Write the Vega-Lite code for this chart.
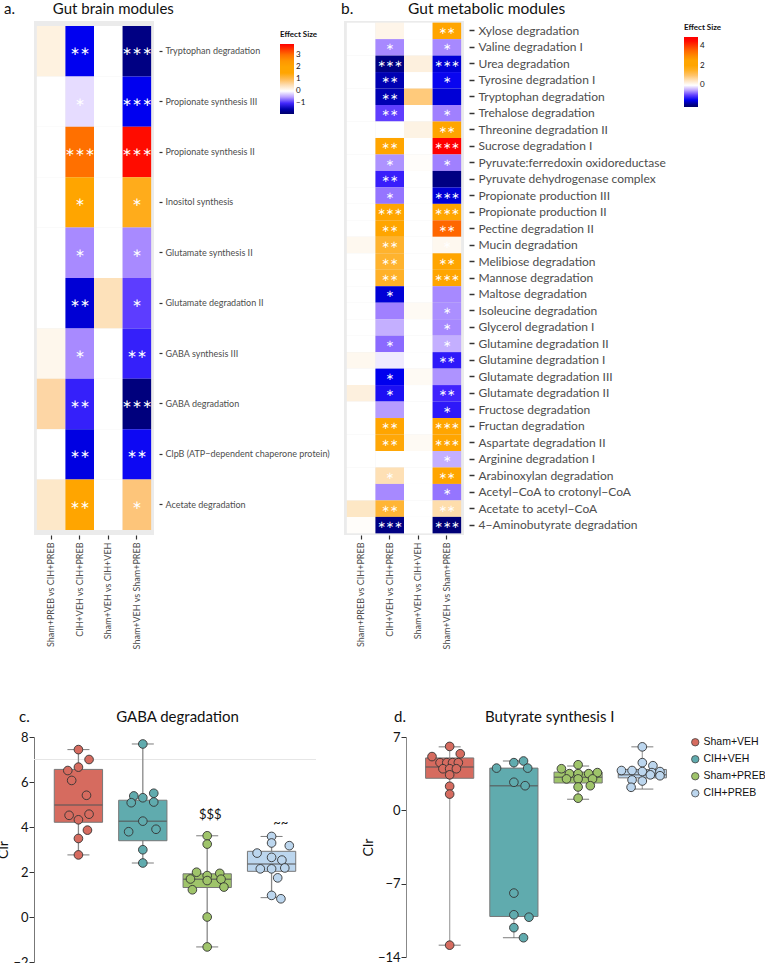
{
  "$schema": "https://vega.github.io/schema/vega-lite/v6.json",
  "padding": {"left": -4, "top": 1, "right": 0, "bottom": 0},
  "background": "white",
  "config": {
    "font": "Lato",
    "view": {"stroke": null},
    "title": {"font": "Lato", "fontWeight": "normal", "fontSize": 15, "color": "#111", "frame": "group"},
    "axis": {"labelFont": "Lato", "titleFont": "Lato"},
    "legend": {"labelFont": "Lato", "titleFont": "Lato"}
  },
  "datasets": {
    "heatA": [
      {"m": "Tryptophan degradation", "c": "Sham+PREB vs CIH+PREB", "e": 0.2, "s": ""},
      {"m": "Tryptophan degradation", "c": "CIH+VEH vs CIH+PREB", "e": -1.25, "s": "∗∗"},
      {"m": "Tryptophan degradation", "c": "Sham+VEH vs CIH+VEH", "e": 0, "s": ""},
      {"m": "Tryptophan degradation", "c": "Sham+VEH vs Sham+PREB", "e": -1.7, "s": "∗∗∗"},
      {"m": "Propionate synthesis III", "c": "Sham+PREB vs CIH+PREB", "e": 0, "s": ""},
      {"m": "Propionate synthesis III", "c": "CIH+VEH vs CIH+PREB", "e": -0.2, "s": "∗"},
      {"m": "Propionate synthesis III", "c": "Sham+VEH vs CIH+VEH", "e": 0, "s": ""},
      {"m": "Propionate synthesis III", "c": "Sham+VEH vs Sham+PREB", "e": -1.25, "s": "∗∗∗"},
      {"m": "Propionate synthesis II", "c": "Sham+PREB vs CIH+PREB", "e": 0, "s": ""},
      {"m": "Propionate synthesis II", "c": "CIH+VEH vs CIH+PREB", "e": 3.0, "s": "∗∗∗"},
      {"m": "Propionate synthesis II", "c": "Sham+VEH vs CIH+VEH", "e": 0, "s": ""},
      {"m": "Propionate synthesis II", "c": "Sham+VEH vs Sham+PREB", "e": 3.8, "s": "∗∗∗"},
      {"m": "Inositol synthesis", "c": "Sham+PREB vs CIH+PREB", "e": 0, "s": ""},
      {"m": "Inositol synthesis", "c": "CIH+VEH vs CIH+PREB", "e": 1.8, "s": "∗"},
      {"m": "Inositol synthesis", "c": "Sham+VEH vs CIH+VEH", "e": 0, "s": ""},
      {"m": "Inositol synthesis", "c": "Sham+VEH vs Sham+PREB", "e": 1.2, "s": "∗"},
      {"m": "Glutamate synthesis II", "c": "Sham+PREB vs CIH+PREB", "e": 0, "s": ""},
      {"m": "Glutamate synthesis II", "c": "CIH+VEH vs CIH+PREB", "e": -0.6, "s": "∗"},
      {"m": "Glutamate synthesis II", "c": "Sham+VEH vs CIH+VEH", "e": 0, "s": ""},
      {"m": "Glutamate synthesis II", "c": "Sham+VEH vs Sham+PREB", "e": -0.6, "s": "∗"},
      {"m": "Glutamate degradation II", "c": "Sham+PREB vs CIH+PREB", "e": 0, "s": ""},
      {"m": "Glutamate degradation II", "c": "CIH+VEH vs CIH+PREB", "e": -1.35, "s": "∗∗"},
      {"m": "Glutamate degradation II", "c": "Sham+VEH vs CIH+VEH", "e": 0.45, "s": ""},
      {"m": "Glutamate degradation II", "c": "Sham+VEH vs Sham+PREB", "e": -0.9, "s": "∗"},
      {"m": "GABA synthesis III", "c": "Sham+PREB vs CIH+PREB", "e": 0.12, "s": ""},
      {"m": "GABA synthesis III", "c": "CIH+VEH vs CIH+PREB", "e": -0.6, "s": "∗"},
      {"m": "GABA synthesis III", "c": "Sham+VEH vs CIH+VEH", "e": 0, "s": ""},
      {"m": "GABA synthesis III", "c": "Sham+VEH vs Sham+PREB", "e": -1.05, "s": "∗∗"},
      {"m": "GABA degradation", "c": "Sham+PREB vs CIH+PREB", "e": 0.6, "s": ""},
      {"m": "GABA degradation", "c": "CIH+VEH vs CIH+PREB", "e": -1.05, "s": "∗∗"},
      {"m": "GABA degradation", "c": "Sham+VEH vs CIH+VEH", "e": 0, "s": ""},
      {"m": "GABA degradation", "c": "Sham+VEH vs Sham+PREB", "e": -1.75, "s": "∗∗∗"},
      {"m": "ClpB (ATP−dependent chaperone protein)", "c": "Sham+PREB vs CIH+PREB", "e": 0, "s": ""},
      {"m": "ClpB (ATP−dependent chaperone protein)", "c": "CIH+VEH vs CIH+PREB", "e": -1.3, "s": "∗∗"},
      {"m": "ClpB (ATP−dependent chaperone protein)", "c": "Sham+VEH vs CIH+VEH", "e": 0, "s": ""},
      {"m": "ClpB (ATP−dependent chaperone protein)", "c": "Sham+VEH vs Sham+PREB", "e": -1.2, "s": "∗∗"},
      {"m": "Acetate degradation", "c": "Sham+PREB vs CIH+PREB", "e": 0.35, "s": ""},
      {"m": "Acetate degradation", "c": "CIH+VEH vs CIH+PREB", "e": 1.8, "s": "∗∗"},
      {"m": "Acetate degradation", "c": "Sham+VEH vs CIH+VEH", "e": 0, "s": ""},
      {"m": "Acetate degradation", "c": "Sham+VEH vs Sham+PREB", "e": 0.85, "s": "∗"}
    ],
    "heatB": [
      {"m": "Xylose degradation", "c": "Sham+PREB vs CIH+PREB", "e": 0, "s": ""},
      {"m": "Xylose degradation", "c": "CIH+VEH vs CIH+PREB", "e": 0.2, "s": ""},
      {"m": "Xylose degradation", "c": "Sham+VEH vs CIH+VEH", "e": 0, "s": ""},
      {"m": "Xylose degradation", "c": "Sham+VEH vs Sham+PREB", "e": 2.0, "s": "∗∗"},
      {"m": "Valine degradation I", "c": "Sham+PREB vs CIH+PREB", "e": 0, "s": ""},
      {"m": "Valine degradation I", "c": "CIH+VEH vs CIH+PREB", "e": -0.65, "s": "∗"},
      {"m": "Valine degradation I", "c": "Sham+VEH vs CIH+VEH", "e": 0, "s": ""},
      {"m": "Valine degradation I", "c": "Sham+VEH vs Sham+PREB", "e": -0.65, "s": "∗"},
      {"m": "Urea degradation", "c": "Sham+PREB vs CIH+PREB", "e": 0, "s": ""},
      {"m": "Urea degradation", "c": "CIH+VEH vs CIH+PREB", "e": -2.0, "s": "∗∗∗"},
      {"m": "Urea degradation", "c": "Sham+VEH vs CIH+VEH", "e": 0.3, "s": ""},
      {"m": "Urea degradation", "c": "Sham+VEH vs Sham+PREB", "e": -1.6, "s": "∗∗∗"},
      {"m": "Tyrosine degradation I", "c": "Sham+PREB vs CIH+PREB", "e": 0, "s": ""},
      {"m": "Tyrosine degradation I", "c": "CIH+VEH vs CIH+PREB", "e": -1.75, "s": "∗∗"},
      {"m": "Tyrosine degradation I", "c": "Sham+VEH vs CIH+VEH", "e": 0, "s": ""},
      {"m": "Tyrosine degradation I", "c": "Sham+VEH vs Sham+PREB", "e": -1.45, "s": "∗"},
      {"m": "Tryptophan degradation", "c": "Sham+PREB vs CIH+PREB", "e": 0, "s": ""},
      {"m": "Tryptophan degradation", "c": "CIH+VEH vs CIH+PREB", "e": -1.75, "s": "∗∗"},
      {"m": "Tryptophan degradation", "c": "Sham+VEH vs CIH+VEH", "e": 0.9, "s": ""},
      {"m": "Tryptophan degradation", "c": "Sham+VEH vs Sham+PREB", "e": -1.6, "s": ""},
      {"m": "Trehalose degradation", "c": "Sham+PREB vs CIH+PREB", "e": 0, "s": ""},
      {"m": "Trehalose degradation", "c": "CIH+VEH vs CIH+PREB", "e": -1.0, "s": "∗∗"},
      {"m": "Trehalose degradation", "c": "Sham+VEH vs CIH+VEH", "e": 0, "s": ""},
      {"m": "Trehalose degradation", "c": "Sham+VEH vs Sham+PREB", "e": -0.7, "s": "∗"},
      {"m": "Threonine degradation II", "c": "Sham+PREB vs CIH+PREB", "e": 0, "s": ""},
      {"m": "Threonine degradation II", "c": "CIH+VEH vs CIH+PREB", "e": 0, "s": ""},
      {"m": "Threonine degradation II", "c": "Sham+VEH vs CIH+VEH", "e": 0.25, "s": ""},
      {"m": "Threonine degradation II", "c": "Sham+VEH vs Sham+PREB", "e": 2.0, "s": "∗∗"},
      {"m": "Sucrose degradation I", "c": "Sham+PREB vs CIH+PREB", "e": 0, "s": ""},
      {"m": "Sucrose degradation I", "c": "CIH+VEH vs CIH+PREB", "e": 2.0, "s": "∗∗"},
      {"m": "Sucrose degradation I", "c": "Sham+VEH vs CIH+VEH", "e": 0, "s": ""},
      {"m": "Sucrose degradation I", "c": "Sham+VEH vs Sham+PREB", "e": 4.8, "s": "∗∗∗"},
      {"m": "Pyruvate:ferredoxin oxidoreductase", "c": "Sham+PREB vs CIH+PREB", "e": 0, "s": ""},
      {"m": "Pyruvate:ferredoxin oxidoreductase", "c": "CIH+VEH vs CIH+PREB", "e": -0.6, "s": "∗"},
      {"m": "Pyruvate:ferredoxin oxidoreductase", "c": "Sham+VEH vs CIH+VEH", "e": 0.05, "s": ""},
      {"m": "Pyruvate:ferredoxin oxidoreductase", "c": "Sham+VEH vs Sham+PREB", "e": -0.7, "s": "∗"},
      {"m": "Pyruvate dehydrogenase complex", "c": "Sham+PREB vs CIH+PREB", "e": 0, "s": ""},
      {"m": "Pyruvate dehydrogenase complex", "c": "CIH+VEH vs CIH+PREB", "e": -1.2, "s": "∗∗"},
      {"m": "Pyruvate dehydrogenase complex", "c": "Sham+VEH vs CIH+VEH", "e": 0, "s": ""},
      {"m": "Pyruvate dehydrogenase complex", "c": "Sham+VEH vs Sham+PREB", "e": -2.0, "s": ""},
      {"m": "Propionate production III", "c": "Sham+PREB vs CIH+PREB", "e": 0, "s": ""},
      {"m": "Propionate production III", "c": "CIH+VEH vs CIH+PREB", "e": -0.75, "s": "∗"},
      {"m": "Propionate production III", "c": "Sham+VEH vs CIH+VEH", "e": 0, "s": ""},
      {"m": "Propionate production III", "c": "Sham+VEH vs Sham+PREB", "e": -1.6, "s": "∗∗∗"},
      {"m": "Propionate production II", "c": "Sham+PREB vs CIH+PREB", "e": 0, "s": ""},
      {"m": "Propionate production II", "c": "CIH+VEH vs CIH+PREB", "e": 2.0, "s": "∗∗∗"},
      {"m": "Propionate production II", "c": "Sham+VEH vs CIH+VEH", "e": 0, "s": ""},
      {"m": "Propionate production II", "c": "Sham+VEH vs Sham+PREB", "e": 2.1, "s": "∗∗∗"},
      {"m": "Pectine degradation II", "c": "Sham+PREB vs CIH+PREB", "e": 0, "s": ""},
      {"m": "Pectine degradation II", "c": "CIH+VEH vs CIH+PREB", "e": 2.0, "s": "∗∗"},
      {"m": "Pectine degradation II", "c": "Sham+VEH vs CIH+VEH", "e": 0, "s": ""},
      {"m": "Pectine degradation II", "c": "Sham+VEH vs Sham+PREB", "e": 3.5, "s": "∗∗"},
      {"m": "Mucin degradation", "c": "Sham+PREB vs CIH+PREB", "e": 0.15, "s": ""},
      {"m": "Mucin degradation", "c": "CIH+VEH vs CIH+PREB", "e": 1.45, "s": "∗∗"},
      {"m": "Mucin degradation", "c": "Sham+VEH vs CIH+VEH", "e": 0, "s": ""},
      {"m": "Mucin degradation", "c": "Sham+VEH vs Sham+PREB", "e": 0.15, "s": "∗"},
      {"m": "Melibiose degradation", "c": "Sham+PREB vs CIH+PREB", "e": 0, "s": ""},
      {"m": "Melibiose degradation", "c": "CIH+VEH vs CIH+PREB", "e": 1.45, "s": "∗∗"},
      {"m": "Melibiose degradation", "c": "Sham+VEH vs CIH+VEH", "e": 0, "s": ""},
      {"m": "Melibiose degradation", "c": "Sham+VEH vs Sham+PREB", "e": 2.0, "s": "∗∗"},
      {"m": "Mannose degradation", "c": "Sham+PREB vs CIH+PREB", "e": 0, "s": ""},
      {"m": "Mannose degradation", "c": "CIH+VEH vs CIH+PREB", "e": 1.5, "s": "∗∗"},
      {"m": "Mannose degradation", "c": "Sham+VEH vs CIH+VEH", "e": 0, "s": ""},
      {"m": "Mannose degradation", "c": "Sham+VEH vs Sham+PREB", "e": 2.0, "s": "∗∗∗"},
      {"m": "Maltose degradation", "c": "Sham+PREB vs CIH+PREB", "e": 0, "s": ""},
      {"m": "Maltose degradation", "c": "CIH+VEH vs CIH+PREB", "e": -1.6, "s": "∗"},
      {"m": "Maltose degradation", "c": "Sham+VEH vs CIH+VEH", "e": 0, "s": ""},
      {"m": "Maltose degradation", "c": "Sham+VEH vs Sham+PREB", "e": -0.65, "s": ""},
      {"m": "Isoleucine degradation", "c": "Sham+PREB vs CIH+PREB", "e": 0, "s": ""},
      {"m": "Isoleucine degradation", "c": "CIH+VEH vs CIH+PREB", "e": -0.7, "s": ""},
      {"m": "Isoleucine degradation", "c": "Sham+VEH vs CIH+VEH", "e": 0.1, "s": ""},
      {"m": "Isoleucine degradation", "c": "Sham+VEH vs Sham+PREB", "e": -0.62, "s": "∗"},
      {"m": "Glycerol degradation I", "c": "Sham+PREB vs CIH+PREB", "e": 0, "s": ""},
      {"m": "Glycerol degradation I", "c": "CIH+VEH vs CIH+PREB", "e": -0.45, "s": ""},
      {"m": "Glycerol degradation I", "c": "Sham+VEH vs CIH+VEH", "e": 0, "s": ""},
      {"m": "Glycerol degradation I", "c": "Sham+VEH vs Sham+PREB", "e": -0.65, "s": "∗"},
      {"m": "Glutamine degradation II", "c": "Sham+PREB vs CIH+PREB", "e": 0, "s": ""},
      {"m": "Glutamine degradation II", "c": "CIH+VEH vs CIH+PREB", "e": -0.8, "s": "∗"},
      {"m": "Glutamine degradation II", "c": "Sham+VEH vs CIH+VEH", "e": 0, "s": ""},
      {"m": "Glutamine degradation II", "c": "Sham+VEH vs Sham+PREB", "e": -0.45, "s": "∗"},
      {"m": "Glutamine degradation I", "c": "Sham+PREB vs CIH+PREB", "e": 0.15, "s": ""},
      {"m": "Glutamine degradation I", "c": "CIH+VEH vs CIH+PREB", "e": -0.12, "s": ""},
      {"m": "Glutamine degradation I", "c": "Sham+VEH vs CIH+VEH", "e": 0, "s": ""},
      {"m": "Glutamine degradation I", "c": "Sham+VEH vs Sham+PREB", "e": -1.25, "s": "∗∗"},
      {"m": "Glutamate degradation III", "c": "Sham+PREB vs CIH+PREB", "e": 0, "s": ""},
      {"m": "Glutamate degradation III", "c": "CIH+VEH vs CIH+PREB", "e": -1.5, "s": "∗"},
      {"m": "Glutamate degradation III", "c": "Sham+VEH vs CIH+VEH", "e": 0.1, "s": ""},
      {"m": "Glutamate degradation III", "c": "Sham+VEH vs Sham+PREB", "e": -0.6, "s": ""},
      {"m": "Glutamate degradation II", "c": "Sham+PREB vs CIH+PREB", "e": 0.3, "s": ""},
      {"m": "Glutamate degradation II", "c": "CIH+VEH vs CIH+PREB", "e": -1.35, "s": "∗"},
      {"m": "Glutamate degradation II", "c": "Sham+VEH vs CIH+VEH", "e": 0, "s": ""},
      {"m": "Glutamate degradation II", "c": "Sham+VEH vs Sham+PREB", "e": -1.15, "s": "∗∗"},
      {"m": "Fructose degradation", "c": "Sham+PREB vs CIH+PREB", "e": 0, "s": ""},
      {"m": "Fructose degradation", "c": "CIH+VEH vs CIH+PREB", "e": -0.55, "s": ""},
      {"m": "Fructose degradation", "c": "Sham+VEH vs CIH+VEH", "e": 0, "s": ""},
      {"m": "Fructose degradation", "c": "Sham+VEH vs Sham+PREB", "e": -1.25, "s": "∗"},
      {"m": "Fructan degradation", "c": "Sham+PREB vs CIH+PREB", "e": 0, "s": ""},
      {"m": "Fructan degradation", "c": "CIH+VEH vs CIH+PREB", "e": 1.9, "s": "∗∗"},
      {"m": "Fructan degradation", "c": "Sham+VEH vs CIH+VEH", "e": 0, "s": ""},
      {"m": "Fructan degradation", "c": "Sham+VEH vs Sham+PREB", "e": 2.0, "s": "∗∗∗"},
      {"m": "Aspartate degradation II", "c": "Sham+PREB vs CIH+PREB", "e": 0, "s": ""},
      {"m": "Aspartate degradation II", "c": "CIH+VEH vs CIH+PREB", "e": 1.75, "s": "∗∗"},
      {"m": "Aspartate degradation II", "c": "Sham+VEH vs CIH+VEH", "e": 0.1, "s": ""},
      {"m": "Aspartate degradation II", "c": "Sham+VEH vs Sham+PREB", "e": 2.0, "s": "∗∗∗"},
      {"m": "Arginine degradation I", "c": "Sham+PREB vs CIH+PREB", "e": 0, "s": ""},
      {"m": "Arginine degradation I", "c": "CIH+VEH vs CIH+PREB", "e": 0, "s": ""},
      {"m": "Arginine degradation I", "c": "Sham+VEH vs CIH+VEH", "e": 0, "s": ""},
      {"m": "Arginine degradation I", "c": "Sham+VEH vs Sham+PREB", "e": -0.45, "s": "∗"},
      {"m": "Arabinoxylan degradation", "c": "Sham+PREB vs CIH+PREB", "e": 0, "s": ""},
      {"m": "Arabinoxylan degradation", "c": "CIH+VEH vs CIH+PREB", "e": 0.55, "s": "∗"},
      {"m": "Arabinoxylan degradation", "c": "Sham+VEH vs CIH+VEH", "e": 0, "s": ""},
      {"m": "Arabinoxylan degradation", "c": "Sham+VEH vs Sham+PREB", "e": 1.9, "s": "∗∗"},
      {"m": "Acetyl−CoA to crotonyl−CoA", "c": "Sham+PREB vs CIH+PREB", "e": 0, "s": ""},
      {"m": "Acetyl−CoA to crotonyl−CoA", "c": "CIH+VEH vs CIH+PREB", "e": -0.65, "s": ""},
      {"m": "Acetyl−CoA to crotonyl−CoA", "c": "Sham+VEH vs CIH+VEH", "e": 0, "s": ""},
      {"m": "Acetyl−CoA to crotonyl−CoA", "c": "Sham+VEH vs Sham+PREB", "e": -0.75, "s": "∗"},
      {"m": "Acetate to acetyl−CoA", "c": "Sham+PREB vs CIH+PREB", "e": 0.45, "s": ""},
      {"m": "Acetate to acetyl−CoA", "c": "CIH+VEH vs CIH+PREB", "e": 1.4, "s": "∗∗"},
      {"m": "Acetate to acetyl−CoA", "c": "Sham+VEH vs CIH+VEH", "e": 0, "s": ""},
      {"m": "Acetate to acetyl−CoA", "c": "Sham+VEH vs Sham+PREB", "e": 0.6, "s": "∗∗"},
      {"m": "4−Aminobutyrate degradation", "c": "Sham+PREB vs CIH+PREB", "e": 0.05, "s": ""},
      {"m": "4−Aminobutyrate degradation", "c": "CIH+VEH vs CIH+PREB", "e": -2.0, "s": "∗∗∗"},
      {"m": "4−Aminobutyrate degradation", "c": "Sham+VEH vs CIH+VEH", "e": 0, "s": ""},
      {"m": "4−Aminobutyrate degradation", "c": "Sham+VEH vs Sham+PREB", "e": -2.1, "s": "∗∗∗"}
    ],
    "ptsC": [
      {"g": "Sham+VEH", "v": 7.44, "j": 0}, {"g": "Sham+VEH", "v": 7.0, "j": 0.33}, {"g": "Sham+VEH", "v": 6.66, "j": 0},
      {"g": "Sham+VEH", "v": 6.51, "j": -0.33}, {"g": "Sham+VEH", "v": 6.07, "j": -0.21}, {"g": "Sham+VEH", "v": 5.41, "j": 0.25},
      {"g": "Sham+VEH", "v": 4.52, "j": -0.29}, {"g": "Sham+VEH", "v": 4.57, "j": 0.33}, {"g": "Sham+VEH", "v": 4.32, "j": 0},
      {"g": "Sham+VEH", "v": 3.86, "j": 0.28}, {"g": "Sham+VEH", "v": 3.49, "j": 0}, {"g": "Sham+VEH", "v": 2.76, "j": 0},
      {"g": "CIH+VEH", "v": 7.69, "j": 0}, {"g": "CIH+VEH", "v": 5.5, "j": 0.34}, {"g": "CIH+VEH", "v": 5.38, "j": -0.28},
      {"g": "CIH+VEH", "v": 5.3, "j": 0}, {"g": "CIH+VEH", "v": 5.08, "j": -0.36}, {"g": "CIH+VEH", "v": 5.11, "j": 0.34},
      {"g": "CIH+VEH", "v": 4.26, "j": 0}, {"g": "CIH+VEH", "v": 3.79, "j": -0.44}, {"g": "CIH+VEH", "v": 3.9, "j": 0.41},
      {"g": "CIH+VEH", "v": 2.99, "j": 0}, {"g": "CIH+VEH", "v": 2.4, "j": 0},
      {"g": "Sham+PREB", "v": 3.61, "j": 0}, {"g": "Sham+PREB", "v": 3.24, "j": 0}, {"g": "Sham+PREB", "v": 1.99, "j": -0.33},
      {"g": "Sham+PREB", "v": 1.94, "j": 0.39}, {"g": "Sham+PREB", "v": 1.84, "j": 0}, {"g": "Sham+PREB", "v": 1.69, "j": -0.52},
      {"g": "Sham+PREB", "v": 1.68, "j": 0.43}, {"g": "Sham+PREB", "v": 1.62, "j": 0}, {"g": "Sham+PREB", "v": 1.33, "j": 0.52},
      {"g": "Sham+PREB", "v": 1.21, "j": -0.46}, {"g": "Sham+PREB", "v": 0.0, "j": 0}, {"g": "Sham+PREB", "v": -1.33, "j": 0},
      {"g": "CIH+PREB", "v": 3.58, "j": 0}, {"g": "CIH+PREB", "v": 3.29, "j": 0}, {"g": "CIH+PREB", "v": 3.17, "j": 0.55},
      {"g": "CIH+PREB", "v": 2.84, "j": -0.45}, {"g": "CIH+PREB", "v": 2.65, "j": 0}, {"g": "CIH+PREB", "v": 2.53, "j": 0.32},
      {"g": "CIH+PREB", "v": 2.14, "j": -0.35}, {"g": "CIH+PREB", "v": 2.14, "j": 0}, {"g": "CIH+PREB", "v": 2.18, "j": 0.41},
      {"g": "CIH+PREB", "v": 1.74, "j": 0.19}, {"g": "CIH+PREB", "v": 0.96, "j": 0}, {"g": "CIH+PREB", "v": 0.81, "j": 0.29}
    ],
    "boxC": [
      {"g": "Sham+VEH", "lo": 2.76, "q1": 4.21, "med": 4.98, "q3": 6.56, "hi": 7.44},
      {"g": "CIH+VEH", "lo": 2.4, "q1": 3.39, "med": 4.26, "q3": 5.19, "hi": 7.69},
      {"g": "Sham+PREB", "lo": -1.33, "q1": 1.31, "med": 1.68, "q3": 1.92, "hi": 3.61},
      {"g": "CIH+PREB", "lo": 0.86, "q1": 2.03, "med": 2.36, "q3": 2.92, "hi": 3.58}
    ],
    "annC": [
      {"g": "Sham+PREB", "v": 4.55, "t": "$$$"},
      {"g": "CIH+PREB", "v": 4.2, "t": "~~"}
    ],
    "ptsD": [
      {"g": "Sham+VEH", "v": 6.1, "j": 0}, {"g": "Sham+VEH", "v": 5.13, "j": -0.55}, {"g": "Sham+VEH", "v": 5.4, "j": 0.33},
      {"g": "Sham+VEH", "v": 4.55, "j": -0.3}, {"g": "Sham+VEH", "v": 4.55, "j": -0.09}, {"g": "Sham+VEH", "v": 4.55, "j": 0.09},
      {"g": "Sham+VEH", "v": 4.55, "j": 0.27}, {"g": "Sham+VEH", "v": 3.97, "j": -0.21}, {"g": "Sham+VEH", "v": 3.97, "j": 0},
      {"g": "Sham+VEH", "v": 3.97, "j": 0.21}, {"g": "Sham+VEH", "v": 3.39, "j": 0}, {"g": "Sham+VEH", "v": 2.3, "j": 0},
      {"g": "Sham+VEH", "v": 1.55, "j": 0}, {"g": "Sham+VEH", "v": -12.87, "j": 0},
      {"g": "CIH+VEH", "v": 4.03, "j": -0.54}, {"g": "CIH+VEH", "v": 4.55, "j": 0}, {"g": "CIH+VEH", "v": 4.71, "j": 0.3},
      {"g": "CIH+VEH", "v": 4.03, "j": 0.43}, {"g": "CIH+VEH", "v": 2.68, "j": 0}, {"g": "CIH+VEH", "v": 2.35, "j": 0.35},
      {"g": "CIH+VEH", "v": -7.9, "j": 0}, {"g": "CIH+VEH", "v": -9.97, "j": 0}, {"g": "CIH+VEH", "v": -10.2, "j": 0.47},
      {"g": "CIH+VEH", "v": -11.2, "j": 0}, {"g": "CIH+VEH", "v": -12.16, "j": 0.3},
      {"g": "Sham+PREB", "v": 4.35, "j": 0}, {"g": "Sham+PREB", "v": 3.97, "j": -0.52}, {"g": "Sham+PREB", "v": 3.5, "j": -0.27},
      {"g": "Sham+PREB", "v": 3.5, "j": 0}, {"g": "Sham+PREB", "v": 3.5, "j": 0.33}, {"g": "Sham+PREB", "v": 3.6, "j": 0.6},
      {"g": "Sham+PREB", "v": 3.0, "j": -0.36}, {"g": "Sham+PREB", "v": 3.0, "j": 0}, {"g": "Sham+PREB", "v": 3.0, "j": 0.45},
      {"g": "Sham+PREB", "v": 2.35, "j": 0.38}, {"g": "Sham+PREB", "v": 2.23, "j": 0}, {"g": "Sham+PREB", "v": 1.16, "j": 0},
      {"g": "CIH+PREB", "v": 6.06, "j": 0}, {"g": "CIH+PREB", "v": 4.55, "j": 0}, {"g": "CIH+PREB", "v": 4.26, "j": 0.33},
      {"g": "CIH+PREB", "v": 3.8, "j": -0.65}, {"g": "CIH+PREB", "v": 3.8, "j": -0.32}, {"g": "CIH+PREB", "v": 3.7, "j": 0},
      {"g": "CIH+PREB", "v": 3.6, "j": 0.3}, {"g": "CIH+PREB", "v": 3.7, "j": 0.55}, {"g": "CIH+PREB", "v": 3.3, "j": 0.55},
      {"g": "CIH+PREB", "v": 3.39, "j": 0.25}, {"g": "CIH+PREB", "v": 2.9, "j": -0.32}, {"g": "CIH+PREB", "v": 2.8, "j": 0},
      {"g": "CIH+PREB", "v": 2.2, "j": -0.35}
    ],
    "boxD": [
      {"g": "Sham+VEH", "lo": -12.87, "q1": 3.06, "med": 4.13, "q3": 5.0, "hi": 6.06},
      {"g": "CIH+VEH", "lo": -12.16, "q1": -10.13, "med": 2.35, "q3": 4.03, "hi": 4.71},
      {"g": "Sham+PREB", "lo": 1.06, "q1": 2.61, "med": 3.16, "q3": 3.65, "hi": 4.23},
      {"g": "CIH+PREB", "lo": 2.03, "q1": 3.1, "med": 3.39, "q3": 3.9, "hi": 6.06}
    ]
  },
  "spacing": 60,
  "align": "none",
  "center": false,
  "resolve": {"scale": {"fill": "independent", "color": "independent", "x": "independent", "y": "independent"}},
  "vconcat": [
    {
      "spacing": 11,
      "resolve": {"scale": {"fill": "independent", "x": "independent", "y": "independent"}},
      "hconcat": [
        {
          "width": 120,
          "height": 514,
          "title": {"text": "a.\u2003\u2003\u00a0\u00a0\u00a0\u00a0Gut brain modules", "anchor": "start", "dx": -30, "offset": 4},
          "view": {"fill": "#ebebeb", "stroke": null},
          "data": {"name": "heatA"},
          "encoding": {
            "x": {"field": "c", "type": "nominal", "sort": ["Sham+PREB vs CIH+PREB", "CIH+VEH vs CIH+PREB", "Sham+VEH vs CIH+VEH", "Sham+VEH vs Sham+PREB"],
                  "scale": {"paddingInner": 0, "paddingOuter": 0.1},
                  "axis": {"title": null, "labelAngle": -90, "labelFontSize": 9, "labelColor": "#4d4d4d", "domain": false, "tickColor": "#333", "tickSize": 4, "tickWidth": 1.2, "labelPadding": 3, "labelLimit": 300}},
            "y": {"field": "m", "type": "nominal", "sort": null,
                  "scale": {"paddingInner": 0, "paddingOuter": 0.1},
                  "axis": {"orient": "right", "title": null, "labelFontSize": 9, "labelColor": "#4d4d4d", "domain": false, "tickColor": "#333", "tickSize": 3, "tickWidth": 1.2, "offset": 5, "labelPadding": 3, "labelLimit": 300}}
          },
          "layer": [
            {
              "mark": {"type": "rect"},
              "encoding": {
                "fill": {"field": "e", "type": "quantitative",
                  "scale": {"interpolate": "rgb",
                    "domain": [-1.9, -1.6, -1.25, -0.95, -0.6, -0.2, 0, 0.3, 0.8, 1.3, 2.3, 3.0, 3.9],
                    "range": ["#00006a", "#000090", "#0000f0", "#5030ff", "#a88aff", "#e6dcff", "#ffffff", "#fdebd0", "#fdc888", "#ffa500", "#ffa500", "#ff7000", "#ff0000"]},
                  "legend": {"orient": "none", "legendX": 246, "legendY": 10, "title": "Effect Size", "titleFontSize": 8, "titleFontWeight": "bold", "titleColor": "#111", "labelFontSize": 8, "labelColor": "#111", "gradientLength": 70, "gradientThickness": 14, "values": [-1, 0, 1, 2, 3], "direction": "vertical", "gradientStrokeWidth": 0}}
              }
            },
            {
              "mark": {"type": "text", "color": "white", "font": "DejaVu Sans", "fontSize": 12, "baseline": "middle"},
              "encoding": {"text": {"field": "s"}}
            }
          ]
        },
        {
          "width": 120,
          "height": 514,
          "title": {"text": "b.\u2003\u2003\u2003\u00a0\u00a0\u00a0\u00a0\u00a0Gut metabolic modules", "anchor": "start", "dx": -3, "offset": 4, "fontSize": 15.5},
          "view": {"fill": "#ebebeb", "stroke": null},
          "data": {"name": "heatB"},
          "encoding": {
            "x": {"field": "c", "type": "nominal", "sort": ["Sham+PREB vs CIH+PREB", "CIH+VEH vs CIH+PREB", "Sham+VEH vs CIH+VEH", "Sham+VEH vs Sham+PREB"],
                  "scale": {"paddingInner": 0, "paddingOuter": 0.1},
                  "axis": {"title": null, "labelAngle": -90, "labelFontSize": 9, "labelColor": "#4d4d4d", "domain": false, "tickColor": "#333", "tickSize": 4, "tickWidth": 1.2, "labelPadding": 3, "labelLimit": 300}},
            "y": {"field": "m", "type": "nominal", "sort": null,
                  "scale": {"paddingInner": 0, "paddingOuter": 0.1},
                  "axis": {"orient": "right", "title": null, "labelFontSize": 12, "labelColor": "#4d4d4d", "domain": false, "tickColor": "#333", "tickSize": 5, "tickWidth": 1.5, "offset": 5, "labelPadding": 4, "labelLimit": 300}}
          },
          "layer": [
            {
              "mark": {"type": "rect"},
              "encoding": {
                "fill": {"field": "e", "type": "quantitative",
                  "scale": {"interpolate": "rgb",
                    "domain": [-2.2, -1.9, -1.5, -1.1, -0.7, -0.4, 0, 0.3, 1.0, 1.8, 2.6, 3.6, 4.6, 4.9],
                    "range": ["#00006a", "#000090", "#0000ee", "#4a28ff", "#a080ff", "#cbb8ff", "#ffffff", "#fdf0de", "#ffc46a", "#ffa500", "#ffa500", "#ff6000", "#ff0000", "#ff0000"]},
                  "legend": {"orient": "none", "legendX": 340, "legendY": 3, "title": "Effect Size", "titleFontSize": 8, "titleFontWeight": "bold", "titleColor": "#111", "labelFontSize": 8, "labelColor": "#111", "gradientLength": 70, "gradientThickness": 14, "values": [0, 2, 4], "direction": "vertical", "gradientStrokeWidth": 0}}
              }
            },
            {
              "mark": {"type": "text", "color": "white", "font": "DejaVu Sans", "fontSize": 10, "baseline": "middle"},
              "encoding": {"text": {"field": "s"}}
            }
          ]
        }
      ]
    },
    {
      "spacing": 44,
      "resolve": {"scale": {"fill": "independent", "x": "independent", "y": "independent"}},
      "hconcat": [
        {
          "width": 282,
          "height": 225,
          "title": {"text": "c.\u2003\u2003\u2003\u2003\u2003\u2003\u2003\u00a0\u00a0GABA degradation", "anchor": "start", "dx": -15, "offset": 6},
          "resolve": {"scale": {"x": "independent", "xOffset": "independent"}},
          "encoding": {
            "x": {"field": "g", "type": "nominal", "sort": ["Sham+VEH", "CIH+VEH", "Sham+PREB", "CIH+PREB"], "scale": {"domain": ["Sham+VEH", "CIH+VEH", "Sham+PREB", "CIH+PREB"], "paddingInner": 0, "paddingOuter": 0.19}, "axis": null}
          },
          "layer": [
            {
              "data": {"name": "boxC"},
              "mark": {"type": "rule", "color": "#e6e6e6", "strokeWidth": 1},
              "encoding": {"x": null, "y": {"datum": 7, "type": "quantitative"}}
            },
            {
              "data": {"name": "boxC"},
              "mark": {"type": "rule", "color": "#888", "strokeWidth": 1.3},
              "encoding": {
                "y": {"field": "lo", "type": "quantitative", "scale": {"domain": [-2, 8], "nice": false},
                      "axis": {"title": "Clr", "titleFontSize": 14, "titleFontWeight": "normal", "titleColor": "#111", "values": [-2, 0, 2, 4, 6, 8], "labelFontSize": 13, "labelColor": "#111", "domainColor": "#777", "tickColor": "#333", "tickSize": 5, "grid": false, "titlePadding": 2, "labelPadding": 1}},
                "y2": {"field": "hi"}
              }
            },
            {
              "data": {"name": "boxC"},
              "mark": {"type": "tick", "color": "#444", "size": 22, "thickness": 1},
              "encoding": {"y": {"field": "lo", "type": "quantitative"}}
            },
            {
              "data": {"name": "boxC"},
              "mark": {"type": "tick", "color": "#444", "size": 22, "thickness": 1},
              "encoding": {"y": {"field": "hi", "type": "quantitative"}}
            },
            {
              "data": {"name": "boxC"},
              "mark": {"type": "bar", "width": {"band": 0.75}, "stroke": "#777", "strokeWidth": 1},
              "encoding": {
                "y": {"field": "q1", "type": "quantitative"},
                "y2": {"field": "q3"},
                "fill": {"field": "g", "type": "nominal", "scale": {"domain": ["Sham+VEH", "CIH+VEH", "Sham+PREB", "CIH+PREB"], "range": ["#d66b5f", "#60abae", "#9fc46a", "#bcd6ee"]}, "legend": null}
              }
            },
            {
              "data": {"name": "boxC"},
              "mark": {"type": "tick", "color": "#555", "size": 48, "thickness": 1.5},
              "encoding": {"y": {"field": "med", "type": "quantitative"}}
            },
            {
              "data": {"name": "ptsC"},
              "mark": {"type": "circle", "size": 75, "opacity": 1, "stroke": "#333", "strokeWidth": 0.9},
              "encoding": {
                "xOffset": {"field": "j", "type": "quantitative", "scale": {"domain": [-1, 1], "range": [0, 64.4]}},
                "y": {"field": "v", "type": "quantitative"},
                "fill": {"field": "g", "type": "nominal", "legend": null}
              }
            },
            {
              "data": {"name": "annC"},
              "mark": {"type": "text", "fontSize": 13, "color": "#111", "baseline": "middle"},
              "encoding": {"y": {"field": "v", "type": "quantitative"}, "text": {"field": "t"}}
            }
          ]
        },
        {
          "width": 280,
          "height": 220,
          "title": {"text": "d.\u2003\u2003\u2003\u2003\u2003\u2003\u00a0\u00a0\u00a0Butyrate synthesis I", "anchor": "start", "dx": -12, "offset": 6},
          "resolve": {"scale": {"x": "independent", "xOffset": "independent"}},
          "encoding": {
            "x": {"field": "g", "type": "nominal", "sort": ["Sham+VEH", "CIH+VEH", "Sham+PREB", "CIH+PREB"], "scale": {"domain": ["Sham+VEH", "CIH+VEH", "Sham+PREB", "CIH+PREB"], "paddingInner": 0, "paddingOuter": 0.18}, "axis": null}
          },
          "layer": [
            {
              "data": {"name": "boxD"},
              "mark": {"type": "rule", "color": "#aaa", "strokeWidth": 1.3},
              "encoding": {
                "y": {"field": "lo", "type": "quantitative", "scale": {"domain": [-14, 7], "nice": false},
                      "axis": {"title": "Clr", "titleFontSize": 14, "titleFontWeight": "normal", "titleColor": "#111", "values": [-14, -7, 0, 7], "labelFontSize": 13, "labelColor": "#111", "domainColor": "#888", "tickColor": "#333", "tickSize": 5, "grid": false, "titlePadding": 2, "labelPadding": 1}},
                "y2": {"field": "hi"}
              }
            },
            {
              "data": {"name": "boxD"},
              "mark": {"type": "tick", "color": "#444", "size": 22, "thickness": 1},
              "encoding": {"y": {"field": "lo", "type": "quantitative"}}
            },
            {
              "data": {"name": "boxD"},
              "mark": {"type": "tick", "color": "#444", "size": 22, "thickness": 1},
              "encoding": {"y": {"field": "hi", "type": "quantitative"}}
            },
            {
              "data": {"name": "boxD"},
              "mark": {"type": "bar", "width": {"band": 0.75}, "stroke": "#777", "strokeWidth": 1},
              "encoding": {
                "y": {"field": "q1", "type": "quantitative"},
                "y2": {"field": "q3"},
                "fill": {"field": "g", "type": "nominal", "scale": {"domain": ["Sham+VEH", "CIH+VEH", "Sham+PREB", "CIH+PREB"], "range": ["#d66b5f", "#60abae", "#9fc46a", "#bcd6ee"]},
                  "legend": {"title": null, "orient": "right", "offset": 4, "symbolType": "circle", "symbolSize": 55, "symbolStrokeColor": "#444", "symbolStrokeWidth": 0.8, "labelFont": "Liberation Sans", "labelFontSize": 10.5, "labelColor": "#111", "labelOffset": 3, "rowPadding": 5, "padding": 0}}
              }
            },
            {
              "data": {"name": "boxD"},
              "mark": {"type": "tick", "color": "#555", "size": 48, "thickness": 1.5},
              "encoding": {"y": {"field": "med", "type": "quantitative"}}
            },
            {
              "data": {"name": "ptsD"},
              "mark": {"type": "circle", "size": 75, "opacity": 1, "stroke": "#333", "strokeWidth": 0.9},
              "encoding": {
                "xOffset": {"field": "j", "type": "quantitative", "scale": {"domain": [-1, 1], "range": [0, 64.2]}},
                "y": {"field": "v", "type": "quantitative"},
                "fill": {"field": "g", "type": "nominal",
                  "legend": {"title": null, "orient": "right", "offset": 4, "symbolType": "circle", "symbolSize": 55, "symbolStrokeColor": "#444", "symbolStrokeWidth": 0.8, "labelFont": "Liberation Sans", "labelFontSize": 10.5, "labelColor": "#111", "labelOffset": 3, "rowPadding": 5, "padding": 0}}
              }
            }
          ]
        }
      ]
    }
  ]
}
